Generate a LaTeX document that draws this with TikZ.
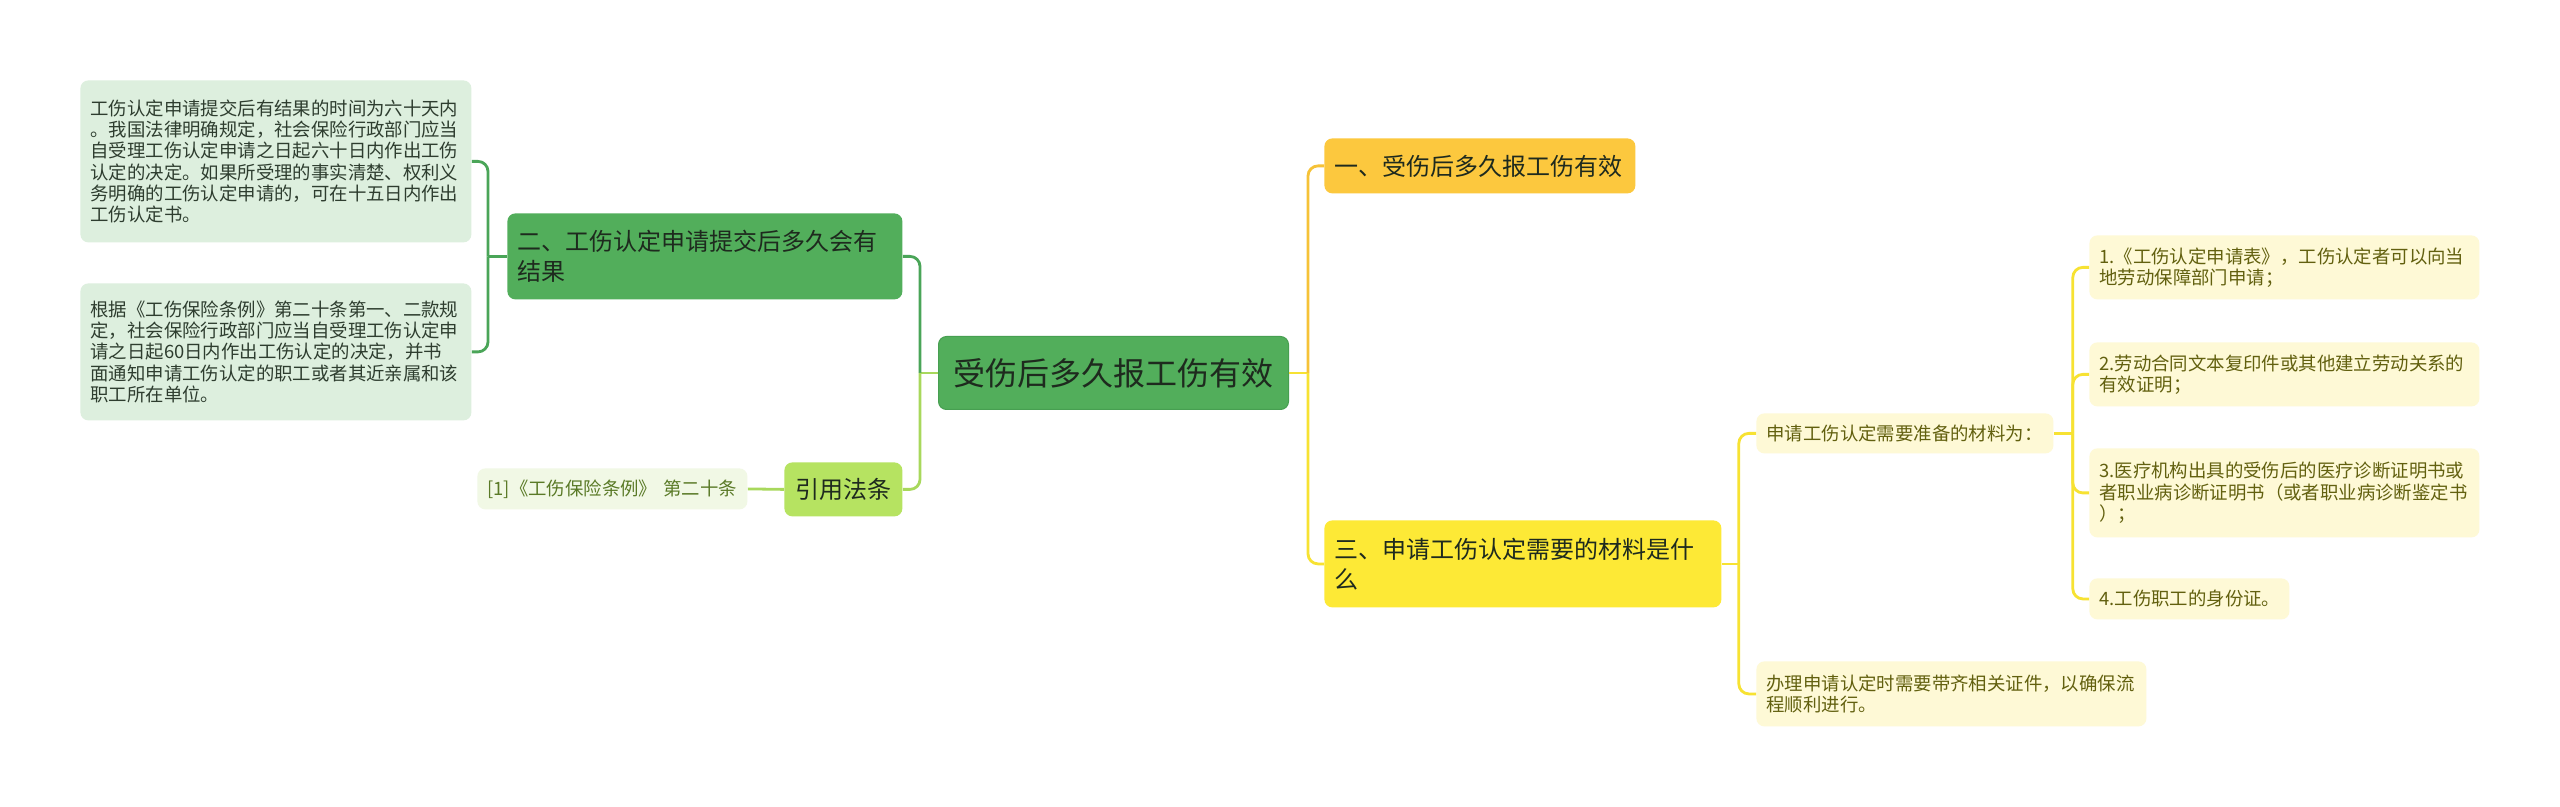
\documentclass[tikz,border=0pt]{standalone}
\usepackage{fontspec}
\setmainfont{Noto Sans CJK SC}
\definecolor{rootfill}{HTML}{52AE5B}
\definecolor{rootdraw}{HTML}{479F51}
\definecolor{leafG}{HTML}{DDEFDE}
\definecolor{leafGtext}{HTML}{2E3D2F}
\definecolor{yinfill}{HTML}{B6E361}
\definecolor{reffill}{HTML}{F1F8E5}
\definecolor{reftext}{HTML}{5A7A27}
\definecolor{orangefill}{HTML}{FCC83E}
\definecolor{yellowfill}{HTML}{FDE936}
\definecolor{leafY}{HTML}{FEF9D6}
\definecolor{leafYtext}{HTML}{62600F}
\definecolor{darktext}{HTML}{1E2A1E}
\definecolor{cGreen}{HTML}{4AA558}
\definecolor{cLight}{HTML}{A8D85C}
\definecolor{cOrange}{HTML}{F6C237}
\definecolor{cYellow}{HTML}{F7E232}
\tikzset{
  box/.style={rectangle, rounded corners=4pt, anchor=north west, inner xsep=5pt, inner ysep=0pt, align=left},
  big/.style={font=\fontsize{12pt}{15pt}\selectfont},
  small/.style={font=\fontsize{9.2pt}{10.6pt}\selectfont},
  conn/.style={line width=1.4pt, rounded corners=5pt},
}
\begin{document}
\begin{tikzpicture}[x=0.5pt,y=-0.5pt]
\useasboundingbox[fill=white] (0,0) rectangle (2560,807);

% root
\node[box, fill=rootfill, draw=rootdraw, line width=0.5pt, align=center, text=darktext,
  font=\fontsize{16pt}{19pt}\selectfont, text width=165pt, minimum height=36.5pt] (root) at (938,336) {受伤后多久报工伤有效};

% left side
\node[box, big, fill=rootfill, text=darktext, text width=187.5pt, minimum height=43pt] (n2) at (507,213)
  {二、工伤认定申请提交后多久会有\\结果};
\node[box, small, fill=leafG, text=leafGtext, text width=185.5pt, minimum height=81pt] (l1) at (80,80)
  {工伤认定申请提交后有结果的时间为六十天内\\。我国法律明确规定，社会保险行政部门应当\\自受理工伤认定申请之日起六十日内作出工伤\\认定的决定。如果所受理的事实清楚、权利义\\务明确的工伤认定申请的，可在十五日内作出\\工伤认定书。};
\node[box, small, fill=leafG, text=leafGtext, text width=185.5pt, minimum height=68.5pt] (l2) at (80,283)
  {根据《工伤保险条例》第二十条第一、二款规\\定，社会保险行政部门应当自受理工伤认定申\\请之日起60日内作出工伤认定的决定，并书\\面通知申请工伤认定的职工或者其近亲属和该\\职工所在单位。};
\node[box, big, fill=yinfill, text=darktext, align=center, text width=49pt, minimum height=27pt] (yin) at (784,462) {引用法条};
\node[box, small, fill=reffill, text=reftext, text width=125pt, minimum height=20.5pt] (ref) at (477,468)
  {[1]《工伤保险条例》 第二十条};

% right side
\node[box, big, fill=orangefill, text=darktext, text width=145.5pt, minimum height=27.5pt] (n1) at (1324,138)
  {一、受伤后多久报工伤有效};
\node[box, big, fill=yellowfill, text=darktext, text width=188.5pt, minimum height=43.5pt] (n3) at (1324,520)
  {三、申请工伤认定需要的材料是什\\么};
\node[box, small, fill=leafY, text=leafYtext, text width=138.5pt, minimum height=20pt] (m1) at (1756,413)
  {申请工伤认定需要准备的材料为：};
\node[box, small, fill=leafY, text=leafYtext, text width=185pt, minimum height=32.5pt] (m2) at (1756,661)
  {办理申请认定时需要带齐相关证件，以确保流\\程顺利进行。};
\node[box, small, fill=leafY, text=leafYtext, text width=185pt, minimum height=32pt] (i1) at (2089,235)
  {1.《工伤认定申请表》，工伤认定者可以向当\\地劳动保障部门申请；};
\node[box, small, fill=leafY, text=leafYtext, text width=185pt, minimum height=32pt] (i2) at (2089,342)
  {2.劳动合同文本复印件或其他建立劳动关系的\\有效证明；};
\node[box, small, fill=leafY, text=leafYtext, text width=185pt, minimum height=44.5pt] (i3) at (2089,448)
  {3.医疗机构出具的受伤后的医疗诊断证明书或\\者职业病诊断证明书（或者职业病诊断鉴定书\\）；};
\node[box, small, fill=leafY, text=leafYtext, text width=90pt, minimum height=20.5pt] (i4) at (2089,578)
  {4.工伤职工的身份证。};

% connectors left
\draw[conn, cLight] (root.west) -- ++(-18,0) coordinate (jL);
\draw[conn, cGreen] (jL) |- (n2.east);
\draw[conn, cLight] (jL) |- (yin.east);
\draw[conn, cGreen] (n2.west) -- ++(-19,0) coordinate (jL2);
\draw[conn, cGreen] (jL2) |- (l1.east);
\draw[conn, cGreen] (jL2) |- (l2.east);
\draw[conn, cLight] (yin.west) -- (ref.east);

% connectors right
\draw[conn, cYellow] (root.east) -- ++(19,0) coordinate (jR);
\draw[conn, cOrange] (jR) |- (n1.west);
\draw[conn, cYellow] (jR) |- (n3.west);
\draw[conn, cYellow] (n3.east) -- ++(17,0) coordinate (jR2);
\draw[conn, cYellow] (jR2) |- (m1.west);
\draw[conn, cYellow] (jR2) |- (m2.west);
\draw[conn, cYellow] (m1.east) -- ++(19,0) coordinate (jR3);
\draw[conn, cYellow] (jR3) |- (i1.west);
\draw[conn, cYellow] (jR3) |- (i2.west);
\draw[conn, cYellow] (jR3) |- (i3.west);
\draw[conn, cYellow] (jR3) |- (i4.west);
\end{tikzpicture}
\end{document}
